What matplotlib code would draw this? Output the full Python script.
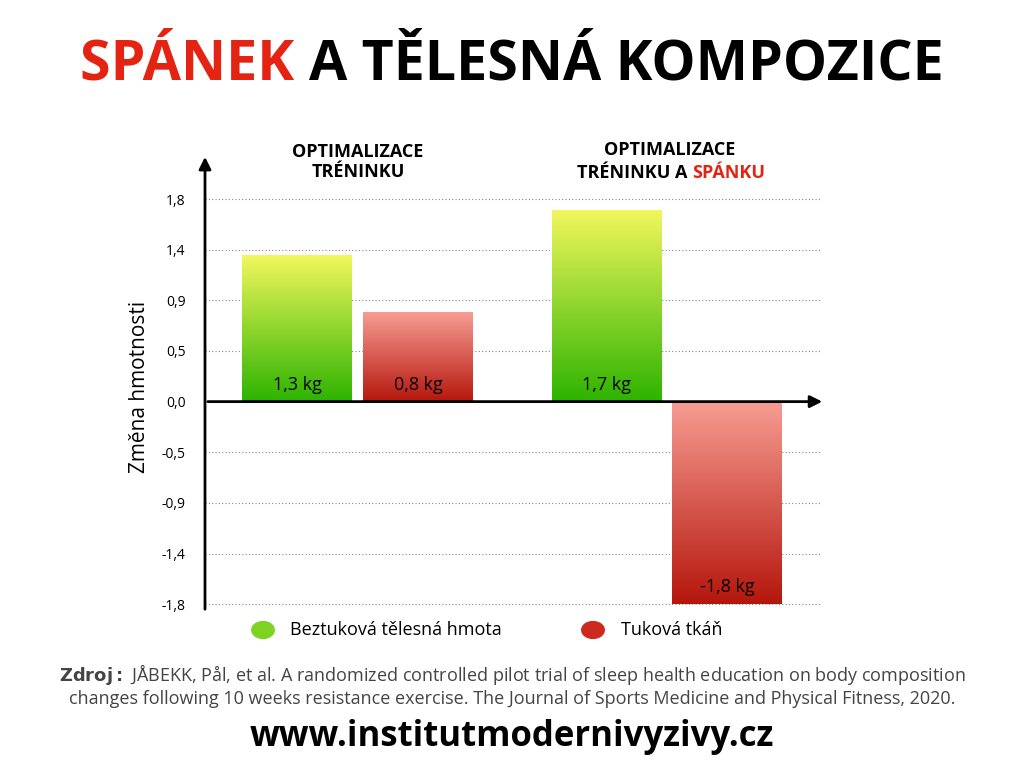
import matplotlib
matplotlib.use("Agg")
import matplotlib.pyplot as plt
import numpy as np
from matplotlib.colors import LinearSegmentedColormap

groups = ["OPTIMALIZACE\nTRÉNINKU", "OPTIMALIZACE\nTRÉNINKU A "]
lean = [1.3, 1.7]
fat = [0.8, -1.8]
lean_labels = ["1,3 kg", "1,7 kg"]
fat_labels = ["0,8 kg", "-1,8 kg"]
tick_vals = [-1.8, -1.35, -0.9, -0.45, 0.0, 0.45, 0.9, 1.35, 1.8]
tick_labels = ["-1,8", "-1,4", "-0,9", "-0,5", "0,0", "0,5", "0,9", "1,4", "1,8"]

plt.rcParams['font.family'] = ['Open Sans', 'DejaVu Sans']
fig = plt.figure(figsize=(10.24, 7.68), dpi=100)
ax = fig.add_axes([205/1024, 1-612/768, 615/1024, 450/768])
ax.set_xlim(0, 6.15)
ax.set_ylim(-1.87, 2.13)
for s in ax.spines.values():
    s.set_visible(False)
ax.set_xticks([])
ax.set_yticks(tick_vals)
ax.set_yticklabels(tick_labels, fontsize=10)
ax.tick_params(axis='y', length=0, pad=14)
for t in tick_vals:
    if t != 0:
        ax.axhline(t, color='#888888', lw=0.8, ls=(0, (1, 2)), zorder=0)

green = LinearSegmentedColormap.from_list('g', ['#f2f75c', '#2db300'])
red = LinearSegmentedColormap.from_list('r', ['#f79d93', '#b5160c'])

def gbar(x0, val, cmap):
    w = 1.1
    grad = np.linspace(0, 1, 256).reshape(-1, 1)
    lo, hi = (0, val) if val >= 0 else (val, 0)
    ax.imshow(grad, cmap=cmap, aspect='auto', extent=(x0, x0 + w, lo, hi), origin='upper', zorder=2)
    ax.bar(x0, val, width=w, align='edge', color='none', edgecolor='none', zorder=3)
    return x0 + w / 2

pos_lean = [0.37, 3.47]
pos_fat = [1.58, 4.67]
for i in range(2):
    c = gbar(pos_lean[i], lean[i], green)
    ax.text(c, 0.07, lean_labels[i], ha='center', va='bottom', fontsize=13, zorder=4)
    c = gbar(pos_fat[i], fat[i], red)
    yy = 0.07 if fat[i] > 0 else fat[i] + 0.07
    ax.text(c, yy, fat_labels[i], ha='center', va='bottom', fontsize=13, zorder=4)
ax.set_xlim(0, 6.15)
ax.set_ylim(-1.87, 2.13)

ax.annotate('', xy=(6.2, 0), xytext=(0, 0), xycoords='data',
            arrowprops=dict(arrowstyle='-|>', color='black', lw=2, mutation_scale=18), annotation_clip=False)
ax.annotate('', xy=(0, 2.2), xytext=(0, -1.87),
            arrowprops=dict(arrowstyle='-|>', color='black', lw=2, mutation_scale=18), annotation_clip=False)
ax.set_ylabel('Změna hmotnosti', fontsize=15, labelpad=8)

R = fig.canvas.get_renderer()

def pair(xc, y, a, b, ca, cb, **kw):
    ta = fig.text(0, y, a, va='center', color=ca, **kw)
    tb = fig.text(0, y, b, va='center', color=cb, **kw)
    wa = ta.get_window_extent(R).width / 1024
    wb = tb.get_window_extent(R).width / 1024
    x0 = xc - (wa + wb) / 2
    ta.set_x(x0)
    tb.set_x(x0 + wa)

hk = dict(fontsize=13, fontweight='bold')
fig.text(358/1024, 1 - 162/768, "OPTIMALIZACE\nTRÉNINKU", ha='center', va='center', linespacing=1.1, **hk)
fig.text(670/1024, 1 - 150/768, "OPTIMALIZACE", ha='center', va='center', **hk)
pair(671/1024, 1 - 173/768, "TRÉNINKU A ", "SPÁNKU", 'black', '#e42313', **hk)

pair(512/1024, 1 - 65/768, "SPÁNEK ", "A TĚLESNÁ KOMPOZICE", '#e42313', 'black',
     fontsize=40, fontweight='bold')

# legend
fig.patches.append(matplotlib.patches.Circle((263/1024, 1 - 630/768), 0.011, transform=fig.transFigure, color='#7ed321', figure=fig))
fig.patches.append(matplotlib.patches.Circle((593/1024, 1 - 630/768), 0.011, transform=fig.transFigure, color='#cc2a1e', figure=fig))
fig.text(290/1024, 1 - 630/768, "Beztuková tělesná hmota", va='center', fontsize=13)
fig.text(621/1024, 1 - 630/768, "Tuková tkáň", va='center', fontsize=13)

fig.text(512/1024, 1 - 685/768, "$\\bf{Zdroj:}$ JÅBEKK, Pål, et al. A randomized controlled pilot trial of sleep health education on body composition\nchanges following 10 weeks resistance exercise. The Journal of Sports Medicine and Physical Fitness, 2020.",
         ha='center', va='center', fontsize=13, color='#444444', linespacing=1.25)
fig.text(512/1024, 1 - 737/768, "www.institutmodernivyzivy.cz", ha='center', va='center', fontsize=25, fontweight='bold')
fig.savefig('out.png', dpi=100)
